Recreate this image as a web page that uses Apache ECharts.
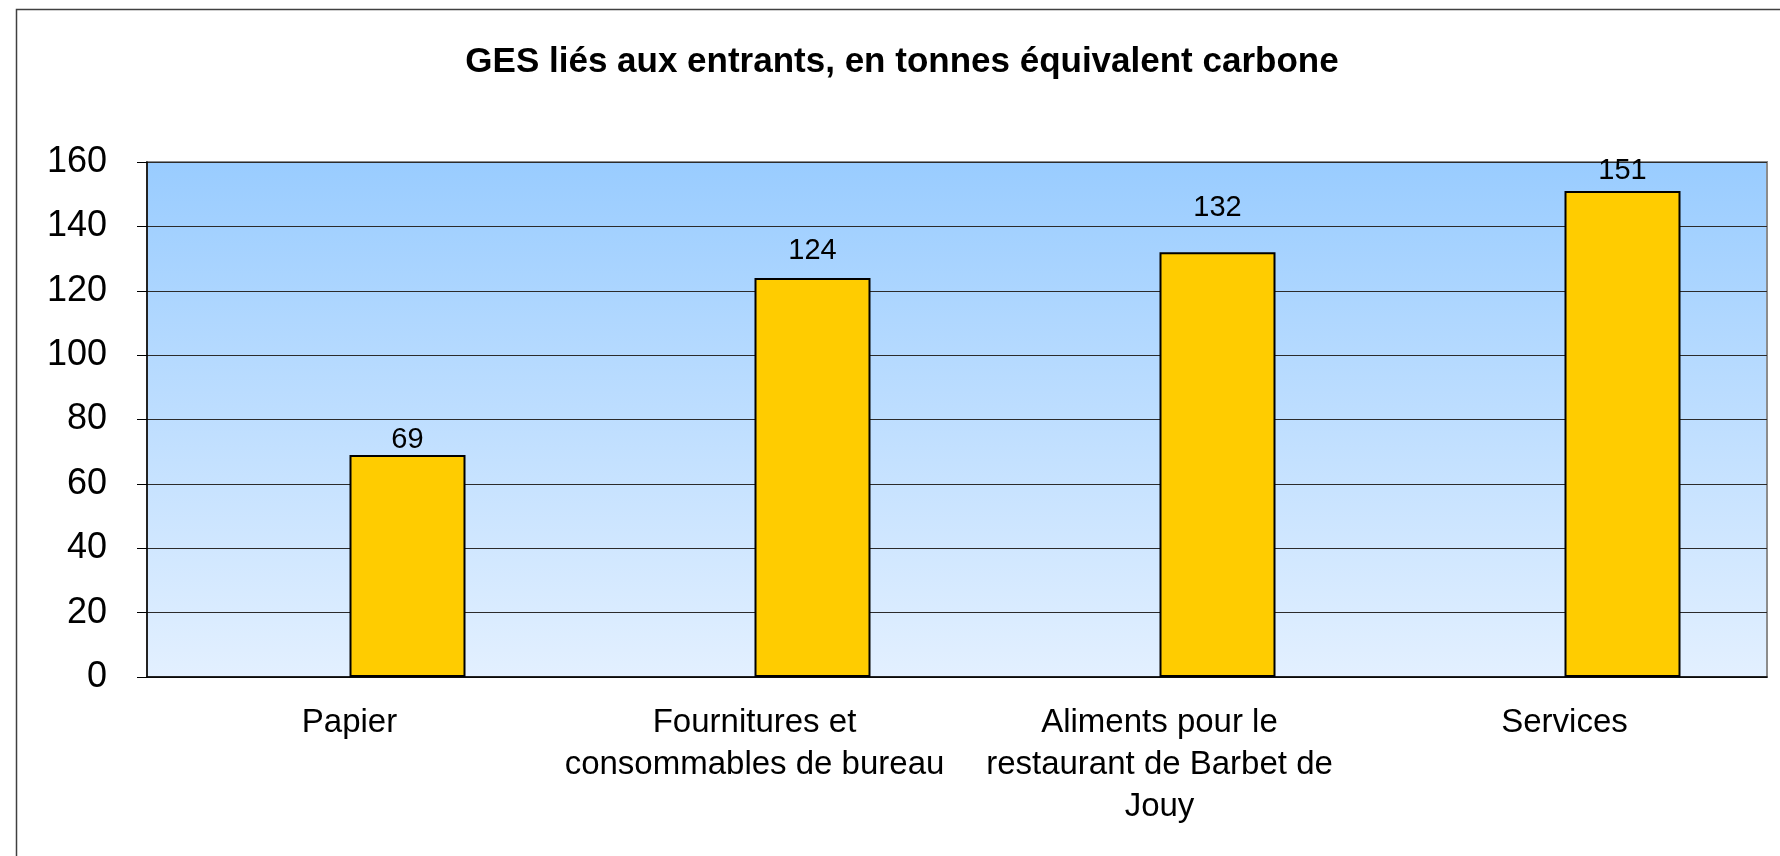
<!DOCTYPE html>
<html>
<head>
<meta charset="utf-8">
<title>GES liés aux entrants</title>
<script src="https://cdn.jsdelivr.net/npm/echarts@6/dist/echarts.min.js"></script>
<style>
  html, body { margin: 0; padding: 0; background: #fff; }
  #chart { width: 1780px; height: 856px; }
</style>
</head>
<body>
<div id="chart"></div>
<script>
const titleText = 'GES liés aux entrants, en tonnes équivalent carbone';
const categories = [
  'Papier',
  'Fournitures et\nconsommables de bureau',
  'Aliments pour le\nrestaurant de Barbet de\nJouy',
  'Services'
];
const emissions = [69, 124, 132, 151];
// Excel left an empty first series, which pushes each bar right of the category centre
const emptySeries = [null, null, null, null];
const yTicks = { min: 0, max: 160, interval: 20 };

const font = "'Liberation Sans', Arial, sans-serif";
// the value labels were nudged by hand in the original, so each sits at its own height
const labelLift = [0, 12, 30, 5];

const chart = echarts.init(document.getElementById('chart'));

chart.setOption({
  animation: false,
  title: {
    text: titleText,
    left: 897,
    top: 40,
    textAlign: 'center',
    textStyle: { fontFamily: font, fontSize: 35, fontWeight: 'bold', color: '#000' }
  },
  graphic: [{
    type: 'rect',
    left: 14,
    top: 7,
    shape: { width: 1800, height: 900 },
    style: { fill: 'none', stroke: '#404040', lineWidth: 1.5 },
    silent: true
  }],
  grid: {
    left: 147, right: 13, top: 162, bottom: 179,
    show: true,
    borderColor: '#8c8c8c',
    borderWidth: 2,
    backgroundColor: new echarts.graphic.LinearGradient(0, 0, 0, 1, [
      { offset: 0, color: '#99CCFF' },
      { offset: 1, color: '#E3F0FF' }
    ])
  },
  xAxis: {
    type: 'category',
    data: categories,
    axisLine: { lineStyle: { color: '#000', width: 1.5 } },
    axisTick: { length: 10, lineStyle: { color: '#000' } },
    axisLabel: {
      margin: 25,
      interval: 0,
      fontFamily: font,
      fontSize: 33,
      lineHeight: 42,
      color: '#000'
    }
  },
  yAxis: {
    type: 'value',
    min: yTicks.min,
    max: yTicks.max,
    interval: yTicks.interval,
    axisLine: { show: true, lineStyle: { color: '#000', width: 1.5 } },
    axisTick: { show: true, length: 10, lineStyle: { color: '#000' } },
    splitLine: { lineStyle: { color: '#2b2b2b', width: 1 } },
    axisLabel: { margin: 40, fontFamily: font, fontSize: 36, color: '#000' }
  },
  series: [
    {
      name: 'vide',
      type: 'bar',
      data: emptySeries,
      barWidth: 116,
      barGap: '0%'
    },
    {
      name: 'GES',
      type: 'bar',
      data: emissions.map((v, i) => ({ value: v, label: { distance: labelLift[i] } })),
      barWidth: 116,
      barGap: '0%',
      itemStyle: { color: '#FFCC00', borderColor: '#000', borderWidth: 2 },
      label: {
        show: true,
        position: 'top',
        fontFamily: font,
        fontSize: 29,
        color: '#000'
      }
    }
  ]
});
</script>
</body>
</html>
